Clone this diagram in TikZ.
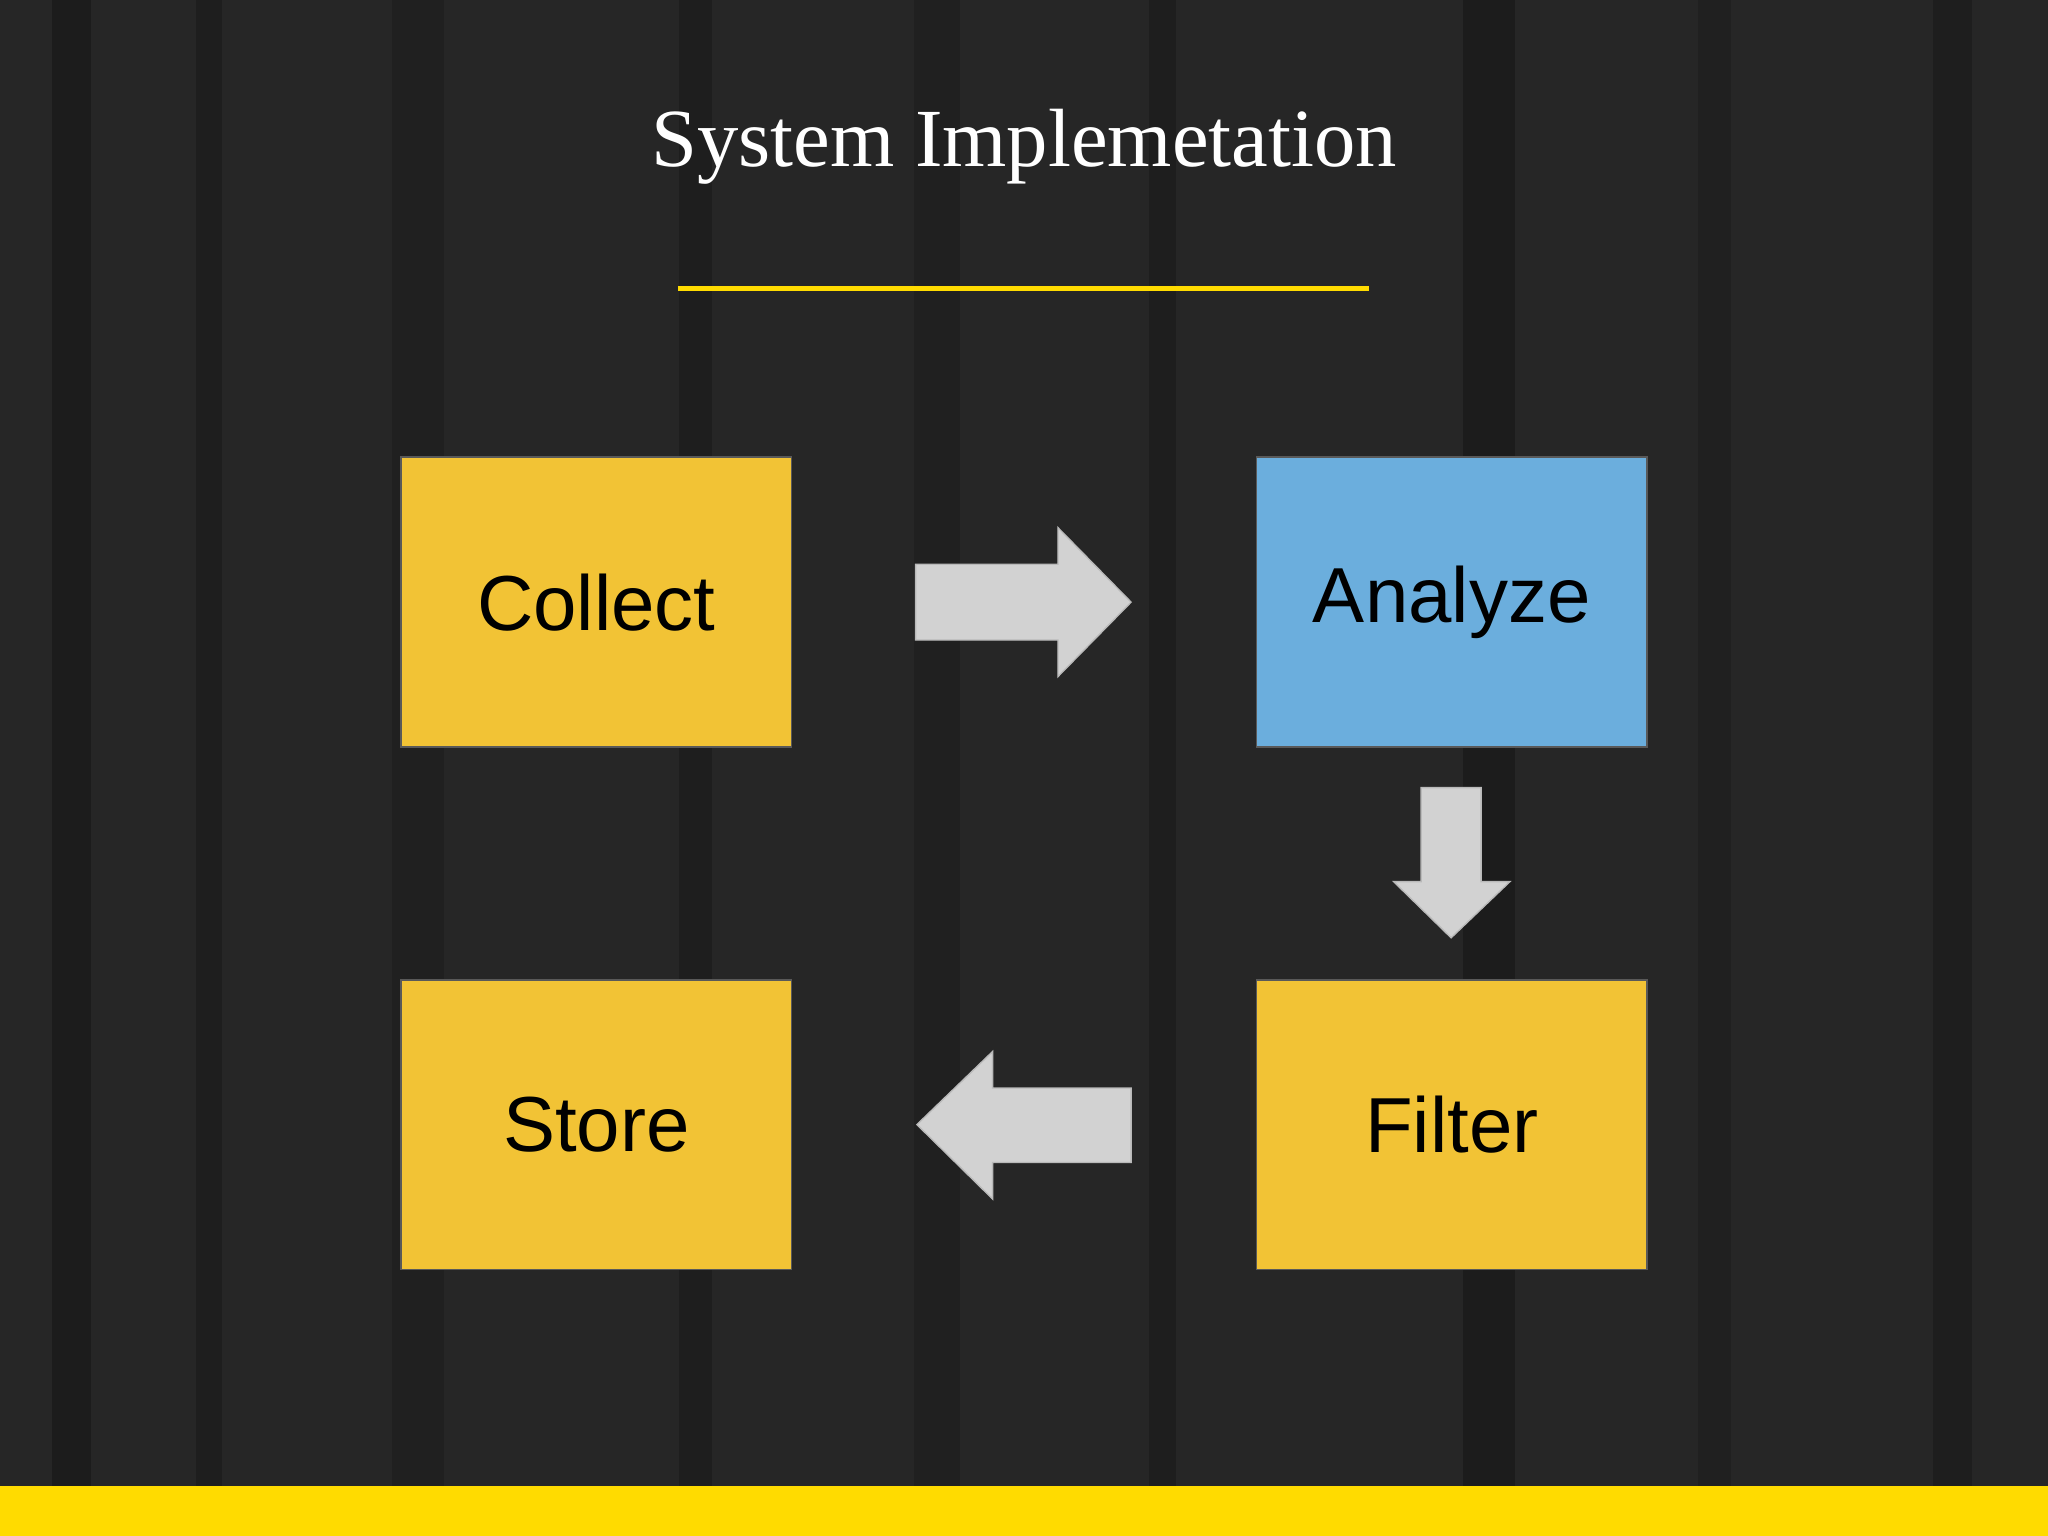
\documentclass[tikz,border=0pt]{standalone}
\usepackage{fontspec}
\setmainfont{Liberation Serif}
\newfontfamily\boxfont{Liberation Sans}
\begin{document}
\begin{tikzpicture}[x=0.02cm,y=-0.02cm,
  stepbox/.style={draw=gray!70!black,line width=0.8pt,minimum width=299*0.02cm,minimum height=222*0.02cm,inner sep=0pt,font=\boxfont\fontsize{34}{40}\selectfont,text=black},
  blockarrow/.style={fill=gray!35,draw=gray!55,line width=0.6pt}]
\definecolor{bg}{HTML}{262626}
\definecolor{boxyellow}{HTML}{F2C335}
\definecolor{boxblue}{HTML}{6BAEDD}
\definecolor{baryellow}{HTML}{FFDB00}
\fill[bg] (0,0) rectangle (1568,1176);
\useasboundingbox (0,0) rectangle (1568,1176);
\foreach \x/\w/\o in {40/30/0.25,150/20/0.2,300/40/0.15,520/25/0.2,700/35/0.15,880/20/0.2,1120/40/0.25,1300/25/0.15,1480/30/0.2}
  \fill[black,opacity=\o] (\x,0) rectangle (\x+\w,1138);
\node[text=white,font=\fontsize{36}{42}\selectfont] (title) at (784,112) {System Implemetation};
\draw[baryellow,line width=2pt] (519,221) -- (1048,221);
\node[stepbox,fill=boxyellow] (collect) at (456.5,461) {Collect};
\node[stepbox,fill=boxblue] (analyze) at (1111.5,461) {Analyze};
\node[stepbox,fill=boxyellow] (store) at (456.5,861) {Store};
\node[stepbox,fill=boxyellow] (filter) at (1111.5,861) {Filter};
\draw[blockarrow] (701,432) -- (810,432) -- (810,404) -- (866,461) -- (810,518) -- (810,490) -- (701,490) -- cycle;
\draw[blockarrow] (1088,603) -- (1134,603) -- (1134,675) -- (1156,675) -- (1111,718) -- (1067,675) -- (1088,675) -- cycle;
\draw[blockarrow] (866,833) -- (760,833) -- (760,805) -- (702,861) -- (760,918) -- (760,890) -- (866,890) -- cycle;
\fill[baryellow] (0,1138) rectangle (1568,1176);
\end{tikzpicture}
\end{document}
